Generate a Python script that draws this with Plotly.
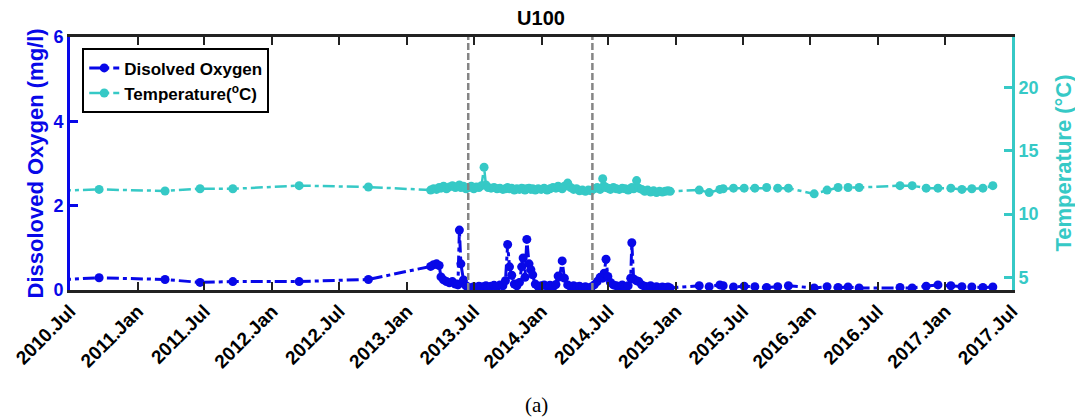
import plotly.graph_objects as go

# ---------------- data ----------------
dates = [
    "2010-06-01", "2010-09-18", "2011-03-16", "2011-06-19", "2011-09-16", "2012-03-14", "2012-09-18",
    "2013-03-06", "2013-03-14", "2013-03-22", "2013-03-29", "2013-04-03", "2013-04-10", "2013-04-18",
    "2013-04-26", "2013-05-04", "2013-05-12", "2013-05-19", "2013-05-23", "2013-05-27", "2013-06-03",
    "2013-06-10", "2013-06-17", "2013-06-24", "2013-07-01", "2013-07-08", "2013-07-15", "2013-07-22",
    "2013-07-29", "2013-08-03", "2013-08-09", "2013-08-17", "2013-08-25", "2013-09-02", "2013-09-10",
    "2013-09-18", "2013-09-25", "2013-10-01", "2013-10-06", "2013-10-12", "2013-10-19", "2013-10-26",
    "2013-11-02", "2013-11-08", "2013-11-12", "2013-11-17", "2013-11-22", "2013-11-28", "2013-12-03",
    "2013-12-08", "2013-12-15", "2013-12-23", "2013-12-31", "2014-01-08", "2014-01-16", "2014-01-24",
    "2014-02-01", "2014-02-09", "2014-02-15", "2014-02-19", "2014-02-26", "2014-03-04", "2014-03-13",
    "2014-03-21", "2014-03-29", "2014-04-06", "2014-04-14", "2014-04-22", "2014-04-30", "2014-05-08",
    "2014-05-16", "2014-05-24", "2014-06-01", "2014-06-09", "2014-06-16", "2014-06-20", "2014-06-25",
    "2014-06-30", "2014-07-07", "2014-07-15", "2014-07-23", "2014-07-31", "2014-08-08", "2014-08-16",
    "2014-08-24", "2014-08-31", "2014-09-03", "2014-09-08", "2014-09-16", "2014-09-22", "2014-09-30",
    "2014-10-08", "2014-10-16", "2014-10-24", "2014-11-01", "2014-11-09", "2014-11-17", "2014-11-25",
    "2014-12-03", "2014-12-10", "2014-12-16",
    "2015-03-05", "2015-04-01", "2015-04-30", "2015-05-09", "2015-06-06", "2015-07-05", "2015-08-03",
    "2015-09-04", "2015-10-04", "2015-11-02", "2016-01-11", "2016-02-15", "2016-03-16", "2016-04-12",
    "2016-05-12", "2016-08-31", "2016-10-03", "2016-11-10", "2016-12-12", "2017-01-16", "2017-02-15",
    "2017-03-14", "2017-04-13", "2017-05-10",
]

do_mgl = [
    0.24, 0.29, 0.25, 0.18, 0.20, 0.20, 0.25,
    0.56, 0.60, 0.62, 0.58, 0.31, 0.24, 0.20,
    0.17, 0.20, 0.14, 0.12, 1.42, 0.62, 0.24,
    0.10, 0.06, 0.05, 0.08, 0.06, 0.09, 0.07,
    0.08, 0.10, 0.06, 0.09, 0.11, 0.08, 0.12,
    0.10, 0.22, 1.08, 0.55, 0.35, 0.14, 0.10,
    0.18, 0.55, 0.76, 0.30, 1.20, 0.62, 0.48,
    0.36, 0.14, 0.08, 0.10, 0.12, 0.09, 0.11,
    0.07, 0.13, 0.33, 0.31, 0.69, 0.28, 0.12,
    0.08, 0.10, 0.07, 0.09, 0.06, 0.08, 0.05,
    0.07, 0.12, 0.20, 0.30, 0.28, 0.40, 0.73,
    0.32, 0.18, 0.12, 0.10, 0.08, 0.12, 0.07,
    0.10, 0.28, 1.12, 0.26, 0.22, 0.20, 0.12,
    0.09, 0.07, 0.10, 0.06, 0.08, 0.05, 0.07,
    0.06, 0.07, 0.05,
    0.10, 0.08, 0.12, 0.10, 0.07, 0.09, 0.08,
    0.06, 0.08, 0.10, 0.05, 0.08, 0.06, 0.07,
    0.05, 0.06, 0.05, 0.09, 0.12, 0.10, 0.08,
    0.07, 0.06, 0.07,
]

temp_c = [
    11.85, 11.95, 11.83, 12.00, 12.00, 12.25, 12.14,
    11.90, 12.00, 11.95, 12.10, 12.05, 12.20, 12.00,
    12.15, 12.25, 12.10, 12.20, 12.30, 12.10, 12.20,
    12.00, 12.10, 12.20, 12.00, 12.15, 12.10, 12.25,
    13.70, 12.30, 12.10, 12.05, 12.10, 12.00, 12.05,
    11.95, 12.00, 12.10, 12.00, 12.05, 11.90, 12.00,
    11.95, 12.05, 12.00, 11.90, 12.00, 12.05, 11.95,
    12.00, 11.90, 12.00, 11.95, 12.05, 11.90, 12.00,
    12.10, 12.05, 12.20, 12.10, 12.00, 12.20, 12.45,
    12.10, 11.95, 12.00, 11.85, 11.90, 11.80, 11.90,
    11.85, 12.00, 12.10, 11.95, 12.80, 12.20, 12.10,
    12.05, 11.95, 12.10, 12.00, 11.95, 12.05, 12.00,
    11.90, 12.00, 12.10, 12.00, 12.65, 12.05, 11.95,
    11.80, 11.90, 11.75, 11.85, 11.70, 11.80, 11.75,
    11.80, 11.85, 11.80,
    11.90, 11.70, 11.95, 12.00, 12.05, 12.05, 12.05,
    12.10, 12.05, 12.05, 11.60, 11.90, 12.10, 12.10,
    12.10, 12.25, 12.25, 12.05, 12.05, 12.05, 11.95,
    12.00, 12.05, 12.25,
]

period_marks = ["2013-06-16", "2014-05-19"]

tick_dates = ["2010-07-01", "2011-01-01", "2011-07-01", "2012-01-01", "2012-07-01", "2013-01-01",
              "2013-07-01", "2014-01-01", "2014-07-01", "2015-01-01", "2015-07-01", "2016-01-01",
              "2016-07-01", "2017-01-01", "2017-07-01"]
tick_labels = ["2010.Jul", "2011.Jan", "2011.Jul", "2012.Jan", "2012.Jul", "2013.Jan",
               "2013.Jul", "2014.Jan", "2014.Jul", "2015.Jan", "2015.Jul", "2016.Jan",
               "2016.Jul", "2017.Jan", "2017.Jul"]

# ---------------- styling ----------------
BLUE = "#0808e8"
CYAN = "#36c9c6"
FONT = "Liberation Sans, Arial, sans-serif"

fig = go.Figure()

fig.add_trace(go.Scatter(
    x=dates, y=do_mgl, name="Disolved Oxygen", mode="lines+markers",
    line=dict(color=BLUE, width=3, dash="12px,4px,4px,4px"),
    marker=dict(color=BLUE, size=9, symbol="circle"),
    yaxis="y",
))
fig.add_trace(go.Scatter(
    x=dates, y=temp_c, name="Temperature(<sup>o</sup>C)", mode="lines+markers",
    line=dict(color=CYAN, width=2.5, dash="12px,4px,4px,4px"),
    marker=dict(color=CYAN, size=9, symbol="circle"),
    yaxis="y2",
))

for d in period_marks:
    fig.add_shape(type="line", xref="x", yref="paper", x0=d, x1=d, y0=0, y1=1,
                  line=dict(color="#858585", width=2.5, dash="7px,3px"), layer="above")

fig.update_layout(
    width=1075, height=419,
    margin=dict(l=70, r=63, t=37, b=129),
    paper_bgcolor="white", plot_bgcolor="white",
    font=dict(family=FONT, size=18, color="black"),
    title=dict(text="<b>U100</b>", x=0.5, xref="paper", xanchor="center",
               y=1 - 18 / 419, yref="container", yanchor="middle",
               font=dict(family=FONT, size=20, color="black")),
    showlegend=True,
    legend=dict(x=0.013, y=0.955, xanchor="left", yanchor="top",
                bgcolor="white", bordercolor="black", borderwidth=2,
                font=dict(family=FONT, size=17, color="black", weight="bold")),
    xaxis=dict(
        type="date", range=["2010-07-01", "2017-07-01"],
        tickmode="array", tickvals=tick_dates, ticktext=tick_labels, tickangle=-45,
        tickfont=dict(family=FONT, size=19, color="black", weight="bold"),
        ticks="inside", ticklen=8, tickwidth=2, tickcolor="#222",
        showline=True, linecolor="#222", linewidth=2.5, mirror="ticks",
        showgrid=False, zeroline=False,
    ),
    yaxis=dict(
        range=[0, 6], tickvals=[0, 2, 4, 6],
        tickfont=dict(family=FONT, size=18, color=BLUE, weight="bold"),
        ticks="inside", ticklen=8, tickwidth=2.5, tickcolor=BLUE,
        showline=True, linecolor=BLUE, linewidth=3,
        showgrid=False, zeroline=False,
    ),
    yaxis2=dict(
        range=[4, 24], tickvals=[5, 10, 15, 20], overlaying="y", side="right", anchor="x",
        tickfont=dict(family=FONT, size=18, color=CYAN, weight="bold"),
        ticks="inside", ticklen=8, tickwidth=2.5, tickcolor=CYAN,
        showline=True, linecolor=CYAN, linewidth=3,
        showgrid=False, zeroline=False,
    ),
)

fig.add_annotation(text="<b>Dissoloved Oxygen (mg/l)</b>", xref="paper", yref="paper",
                   x=-35 / 942, y=0.5, xanchor="center", yanchor="middle", textangle=-90,
                   showarrow=False, font=dict(family=FONT, size=22, color=BLUE))
fig.add_annotation(text="<b>Temperature (°C)</b>", xref="paper", yref="paper",
                   x=1 + 51 / 942, y=0.5, xanchor="center", yanchor="middle", textangle=-90,
                   showarrow=False, font=dict(family=FONT, size=22, color=CYAN))
fig.add_annotation(text="(a)", xref="paper", yref="paper",
                   x=(536 - 70) / 942, y=-(405 - 290) / 253, xanchor="center", yanchor="middle",
                   showarrow=False, font=dict(family="Liberation Serif, Times New Roman, serif",
                                              size=21, color="black"))

fig.write_html("out.html")
